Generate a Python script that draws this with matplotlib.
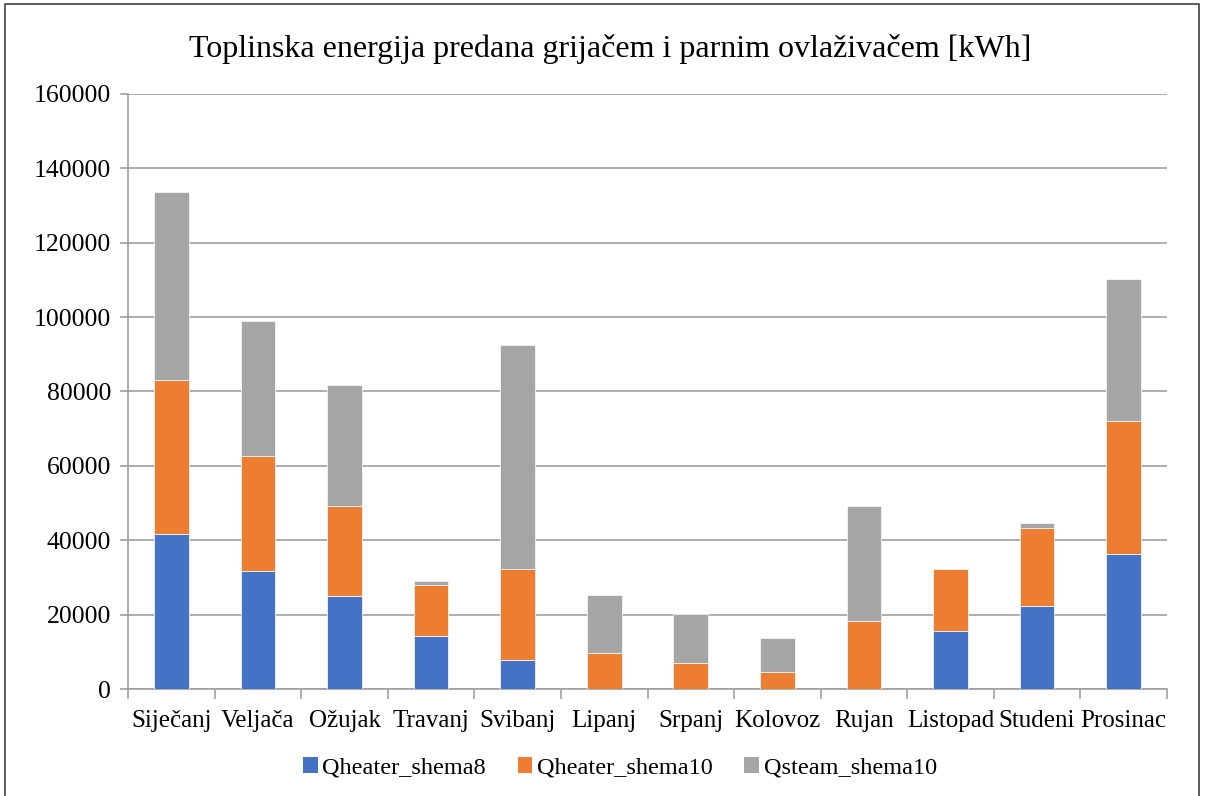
import matplotlib.pyplot as plt
import numpy as np
from matplotlib.lines import Line2D
from matplotlib.patches import Patch

months = ["Siječanj", "Veljača", "Ožujak", "Travanj", "Svibanj", "Lipanj",
          "Srpanj", "Kolovoz", "Rujan", "Listopad", "Studeni", "Prosinac"]
q_heater_s8 = [41800, 31700, 25000, 14200, 7800, 0, 0, 0, 0, 15500, 22300, 36300]
q_heater_s10 = [41200, 31000, 24300, 13800, 24400, 9600, 6900, 4500, 18300, 16700, 20900, 35700]
q_steam_s10 = [50600, 36300, 32500, 1000, 60300, 15700, 13300, 9300, 30800, 0, 1500, 38300]
series_names = ["Qheater_shema8", "Qheater_shema10", "Qsteam_shema10"]
colors = ["#4472C4", "#ED7D31", "#A5A5A5"]
yticks = list(range(0, 160001, 20000))

plt.rcParams["font.family"] = ["Liberation Serif", "DejaVu Serif"]

fig = plt.figure(figsize=(12.07, 7.96), dpi=100)
ax = fig.add_axes([128 / 1207, 1 - 689 / 796, (1167 - 128) / 1207, (689 - 94) / 796])

x = np.arange(len(months))
bottom = np.zeros(len(months))
for vals, col, name in zip([q_heater_s8, q_heater_s10, q_steam_s10], colors, series_names):
    ax.bar(x, vals, width=0.4, bottom=bottom, color=col, edgecolor="#f4f4f4",
           linewidth=0.6, label=name, zorder=3)
    bottom += np.array(vals)

ax.set_xlim(-0.5, len(months) - 0.5)
ax.set_ylim(0, 160000)
ax.set_yticks(yticks)
ax.set_yticklabels([str(v) for v in yticks], fontsize=18.5)
ax.set_xticks(x)
ax.set_xticklabels(months, fontsize=18)
ax.tick_params(axis="x", length=0, pad=15)
ax.tick_params(axis="y", length=6, color="#A0A0A0", width=1.2, pad=6)
# category separator ticks on x axis
ax.set_xticks(np.arange(-0.5, len(months)), minor=True)
ax.tick_params(axis="x", which="minor", length=7, color="#A0A0A0", width=1.2)

ax.grid(axis="y", color="#A0A0A0", linewidth=1.2, zorder=0)
for side in ["top", "right"]:
    ax.spines[side].set_visible(False)
for side in ["left", "bottom"]:
    ax.spines[side].set_color("#A0A0A0")
    ax.spines[side].set_linewidth(1.2)

fig.text(610 / 1207, 1 - 49 / 796, "Toplinska energija predana grijačem i parnim ovlaživačem [kWh]",
         ha="center", va="center", fontsize=23)

handles = [Patch(facecolor=c) for c in colors]
fig.legend(handles, series_names, loc="center", bbox_to_anchor=(620 / 1207, 1 - 768 / 796),
           ncol=3, frameon=False, fontsize=17.5, handlelength=0.6, handleheight=0.6,
           handletextpad=0.2, columnspacing=1.3)

# outer chart border
border = Line2D([5 / 1207, 5 / 1207, 1199 / 1207, 1199 / 1207],
                [-0.01, 1 - 4 / 796, 1 - 4 / 796, -0.01],
                transform=fig.transFigure, color="#404040", linewidth=1.2)
fig.add_artist(border)

fig.savefig("out.png", dpi=100)
